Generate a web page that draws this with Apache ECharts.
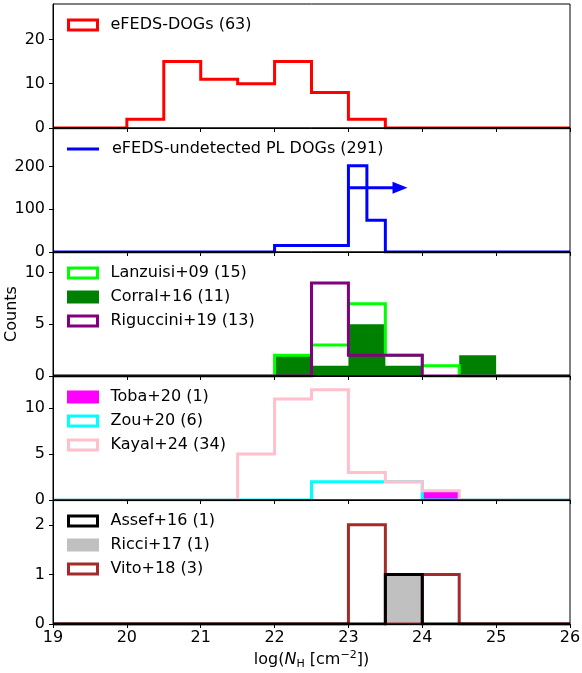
<!DOCTYPE html>
<html>
<head>
<meta charset="utf-8">
<script src="https://cdn.jsdelivr.net/npm/echarts@6/dist/echarts.min.js"></script>
<style>
  html, body { margin: 0; padding: 0; background: #fff; }
  #chart { width: 582px; height: 673px; }
</style>
</head>
<body>
<div id="chart"></div>
<script>
// Column density bins, log(N_H) in steps of 0.5 dex
const binEdges = [19, 19.5, 20, 20.5, 21, 21.5, 22, 22.5, 23, 23.5, 24, 24.5, 25, 25.5, 26];

// Panel 1: X-ray detected DOGs
const efedsDogs = [0, 0, 2, 15, 11, 10, 15, 8, 2, 0, 0, 0, 0, 0];

// Panel 2: stacked undetected power-law DOGs (own bins) and lower-limit arrow
const plEdges = [19, 22, 23, 23.25, 23.5, 26];
const plUndetected = [0, 15, 202, 74, 0];
const plArrow = [[23.0, 23.8, 150]]; // [start, tip, level]

// Panel 3
const lanzuisi09 = [0, 0, 0, 0, 0, 0, 2, 3, 7, 2, 1, 0, 0, 0];
const corral16 = [0, 0, 0, 0, 0, 0, 2, 1, 5, 1, 0, 2, 0, 0];
const riguccini19 = [0, 0, 0, 0, 0, 0, 0, 9, 2, 2, 0, 0, 0, 0];

// Panel 4
const toba20 = [0, 0, 0, 0, 0, 0, 0, 0, 0, 0, 1, 0, 0, 0];
const zou20 = [0, 0, 0, 0, 0, 0, 0, 2, 2, 2, 0, 0, 0, 0];
const kayal24 = [0, 0, 0, 0, 0, 5, 11, 12, 3, 2, 1, 0, 0, 0];

// Panel 5
const assef16 = [0, 0, 0, 0, 0, 0, 0, 0, 0, 1, 0, 0, 0, 0];
const ricci17 = [0, 0, 0, 0, 0, 0, 0, 0, 0, 1, 0, 0, 0, 0];
const vito18 = [0, 0, 0, 0, 0, 0, 0, 0, 2, 0, 1, 0, 0, 0];

// Axes
const xRange = [19, 26];
const yMax = [28, 290, 12, 13.5, 2.5];
const yTicks = [[0, 10, 20], [0, 100, 200], [0, 5, 10], [0, 5, 10], [0, 1, 2]];

const FONT = 'DejaVu Sans';
const FS = 16;
const LW = 3;
const PANEL_TOP = 4, PANEL_H = 124, PLOT_LEFT = 53, PLOT_W = 517;

// Outline of a histogram: (e0,0) -> bars -> (en,0), drawn as an 'end' step line
function stepOutline(edges, counts) {
  const pts = [[edges[0], 0]];
  for (let i = 0; i < counts.length; i++) pts.push([edges[i], counts[i]]);
  pts.push([edges[edges.length - 1], counts[counts.length - 1]]);
  pts.push([edges[edges.length - 1], 0]);
  return pts;
}

function histStep(name, panel, counts, color, edges) {
  return {
    type: 'line', name, xAxisIndex: panel, yAxisIndex: panel,
    data: stepOutline(edges || binEdges, counts),
    step: 'end', symbol: 'none', silent: true,
    lineStyle: { color, width: LW, join: 'miter' },
    itemStyle: { color }
  };
}

function histFilled(name, panel, counts, color) {
  return {
    type: 'line', name, xAxisIndex: panel, yAxisIndex: panel,
    data: stepOutline(binEdges, counts),
    step: 'end', symbol: 'none', silent: true,
    lineStyle: { width: 0, opacity: 0 },
    areaStyle: { color, opacity: 1 },
    itemStyle: { color }
  };
}

const grids = [], xAxes = [], yAxes = [];
for (let i = 0; i < 5; i++) {
  const last = i === 4;
  grids.push({
    left: PLOT_LEFT, width: PLOT_W, top: PANEL_TOP + PANEL_H * i, height: PANEL_H,
    outerBoundsMode: 'none', containLabel: false,
    show: true, backgroundColor: 'transparent', borderColor: '#000', borderWidth: 1, z: 10
  });
  xAxes.push({
    type: 'value', gridIndex: i, min: xRange[0], max: xRange[1], interval: 1, z: 10,
    axisLine: { show: true, onZero: false, lineStyle: { color: '#000', width: 1 } },
    axisTick: { show: true, inside: false, length: 4, lineStyle: { color: '#000', width: 1 } },
    axisLabel: { show: last, margin: 6, color: '#000', fontFamily: FONT, fontSize: FS },
    splitLine: { show: false },
    name: last ? '{a|log(}{i|N}{s|H}{a| [cm}{p|−2}{a|])}' : '',
    nameLocation: 'middle', nameGap: 26, nameMoveOverlap: false,
    nameTextStyle: {
      color: '#000', fontFamily: FONT, fontSize: FS,
      rich: {
        a: { fontFamily: FONT, fontSize: FS, color: '#000', lineHeight: 20, verticalAlign: 'middle' },
        i: { fontFamily: FONT, fontSize: FS, color: '#000', fontStyle: 'italic', lineHeight: 20, verticalAlign: 'middle' },
        s: { fontFamily: FONT, fontSize: 11, color: '#000', lineHeight: 20, verticalAlign: 'bottom' },
        p: { fontFamily: FONT, fontSize: 11, color: '#000', lineHeight: 20, verticalAlign: 'top' }
      }
    }
  });
  yAxes.push({
    type: 'value', gridIndex: i, min: 0, max: yMax[i], z: 10,
    axisLine: { show: true, onZero: false, lineStyle: { color: '#000', width: 1 } },
    axisTick: { show: true, inside: false, length: 4, customValues: yTicks[i], lineStyle: { color: '#000', width: 1 } },
    axisLabel: { show: true, margin: 8, customValues: yTicks[i], color: '#000', fontFamily: FONT, fontSize: FS },
    splitLine: { show: false },
    name: i === 2 ? 'Counts' : '',
    nameLocation: 'middle', nameGap: 33, nameMoveOverlap: false,
    nameTextStyle: { color: '#000', fontFamily: FONT, fontSize: FS }
  });
}

// Legend entries: outlined boxes, filled boxes, or a line
function boxEntry(name, color, filled) {
  return {
    name, icon: 'rect',
    itemStyle: { color: filled ? color : '#fff', borderColor: color, borderWidth: LW, opacity: 1 }
  };
}
function legendBlock(top, entries, opts) {
  return Object.assign({
    orient: 'vertical', left: 67, top, padding: 0, itemGap: 8,
    itemWidth: 29, itemHeight: 10, selectedMode: false,
    textStyle: { color: '#000', fontFamily: FONT, fontSize: FS, padding: [0, 0, 0, 8] },
    data: entries
  }, opts || {});
}

const legends = [
  legendBlock(PANEL_TOP + 13, [boxEntry('eFEDS-DOGs (63)', '#ff0000', false)]),
  legendBlock(PANEL_TOP + PANEL_H + 13, [{
    name: 'eFEDS-undetected PL DOGs (291)', icon: 'rect',
    itemStyle: { color: '#0000ff', borderWidth: 0, opacity: 1 }
  }], { itemWidth: 32, itemHeight: LW, textStyle: { color: '#000', fontFamily: FONT, fontSize: FS, padding: [0, 0, 0, 8] } }),
  legendBlock(PANEL_TOP + PANEL_H * 2 + 13, [
    boxEntry('Lanzuisi+09 (15)', '#00ff00', false),
    boxEntry('Corral+16 (11)', '#008000', true),
    boxEntry('Riguccini+19 (13)', '#800080', false)
  ]),
  legendBlock(PANEL_TOP + PANEL_H * 3 + 13, [
    boxEntry('Toba+20 (1)', '#ff00ff', true),
    boxEntry('Zou+20 (6)', '#00ffff', false),
    boxEntry('Kayal+24 (34)', '#ffc0cb', false)
  ]),
  legendBlock(PANEL_TOP + PANEL_H * 4 + 13, [
    boxEntry('Assef+16 (1)', '#000000', false),
    boxEntry('Ricci+17 (1)', '#c0c0c0', true),
    boxEntry('Vito+18 (3)', '#a52a2a', false)
  ])
];

const series = [
  histStep('eFEDS-DOGs (63)', 0, efedsDogs, '#ff0000'),

  histStep('eFEDS-undetected PL DOGs (291)', 1, plUndetected, '#0000ff', plEdges),
  {
    type: 'custom', name: 'lower limit', xAxisIndex: 1, yAxisIndex: 1, silent: true,
    data: plArrow,
    renderItem: function (params, api) {
      const p0 = api.coord([api.value(0), api.value(2)]);
      const p1 = api.coord([api.value(1), api.value(2)]);
      const headL = 15, headW = 6;
      return {
        type: 'group',
        children: [
          { type: 'line', shape: { x1: p0[0], y1: p0[1], x2: p1[0] - headL + 1, y2: p1[1] },
            style: { stroke: '#0000ff', lineWidth: LW } },
          { type: 'polygon',
            shape: { points: [[p1[0] - headL, p1[1] - headW], [p1[0], p1[1]], [p1[0] - headL, p1[1] + headW]] },
            style: { fill: '#0000ff' } }
        ]
      };
    }
  },

  histStep('Lanzuisi+09 (15)', 2, lanzuisi09, '#00ff00'),
  histFilled('Corral+16 (11)', 2, corral16, '#008000'),
  histStep('Riguccini+19 (13)', 2, riguccini19, '#800080'),

  histFilled('Toba+20 (1)', 3, toba20, '#ff00ff'),
  histStep('Zou+20 (6)', 3, zou20, '#00ffff'),
  histStep('Kayal+24 (34)', 3, kayal24, '#ffc0cb'),

  histStep('Vito+18 (3)', 4, vito18, '#a52a2a'),
  histFilled('Ricci+17 (1)', 4, ricci17, '#c0c0c0'),
  histStep('Assef+16 (1)', 4, assef16, '#000000')
];

const chart = echarts.init(document.getElementById('chart'), null, { renderer: 'canvas' });
chart.setOption({
  backgroundColor: '#fff',
  animation: false,
  grid: grids,
  xAxis: xAxes,
  yAxis: yAxes,
  legend: legends,
  series
});
</script>
</body>
</html>
